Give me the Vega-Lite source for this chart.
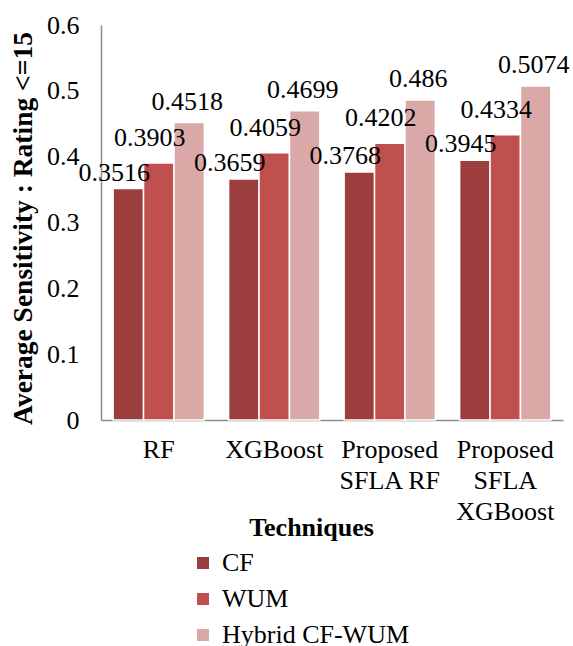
{
  "$schema": "https://vega.github.io/schema/vega-lite/v6.json",
  "width": 462,
  "height": 395,
  "autosize": {"type": "none"},
  "padding": {"left": 101, "top": 25, "right": 10, "bottom": 226},
  "background": "white",
  "config": {
    "font": "Liberation Serif",
    "view": {"stroke": null},
    "axis": {"labelFont": "Liberation Serif", "titleFont": "Liberation Serif", "labelColor": "black", "titleColor": "black"}
  },
  "data": {
    "values": [
      {"technique": "RF", "series": "CF", "value": 0.3516},
      {"technique": "RF", "series": "WUM", "value": 0.3903},
      {"technique": "RF", "series": "Hybrid CF-WUM", "value": 0.4518},
      {"technique": "XGBoost", "series": "CF", "value": 0.3659},
      {"technique": "XGBoost", "series": "WUM", "value": 0.4059},
      {"technique": "XGBoost", "series": "Hybrid CF-WUM", "value": 0.4699},
      {"technique": "Proposed SFLA RF", "series": "CF", "value": 0.3768},
      {"technique": "Proposed SFLA RF", "series": "WUM", "value": 0.4202},
      {"technique": "Proposed SFLA RF", "series": "Hybrid CF-WUM", "value": 0.486},
      {"technique": "Proposed SFLA XGBoost", "series": "CF", "value": 0.3945},
      {"technique": "Proposed SFLA XGBoost", "series": "WUM", "value": 0.4334},
      {"technique": "Proposed SFLA XGBoost", "series": "Hybrid CF-WUM", "value": 0.5074}
    ]
  },
  "encoding": {
    "x": {
      "field": "technique",
      "type": "nominal",
      "sort": null,
      "scale": {"paddingInner": 0.21, "paddingOuter": 0.105},
      "axis": {
        "title": "Techniques",
        "titleFontSize": 26,
        "titleFontWeight": "bold",
        "titleX": 210,
        "titleY": 107,
        "titleBaseline": "middle",
        "titleAlign": "center",
        "labelAngle": 0,
        "labelFontSize": 26,
        "labelLineHeight": 31,
        "labelPadding": 16,
        "labelLimit": 0,
        "labelExpr": "datum.value == 'Proposed SFLA RF' ? ['Proposed', 'SFLA RF'] : datum.value == 'Proposed SFLA XGBoost' ? ['Proposed', 'SFLA', 'XGBoost'] : datum.label",
        "ticks": false,
        "domainColor": "#8c8c8c",
        "domainWidth": 1.5
      }
    },
    "xOffset": {
      "field": "series",
      "type": "nominal",
      "sort": ["CF", "WUM", "Hybrid CF-WUM"],
      "scale": {"paddingInner": 0, "paddingOuter": 0}
    },
    "y": {
      "field": "value",
      "type": "quantitative",
      "scale": {"domain": [0, 0.6]},
      "axis": {
        "title": "Average Sensitivity : Rating  <=15",
        "titleFontSize": 27.5,
        "titleFontWeight": "bold",
        "titleX": -78,
        "titleY": 203,
        "titleAngle": -90,
        "titleBaseline": "middle",
        "titleAlign": "center",
        "titleLimit": 0,
        "values": [0, 0.1, 0.2, 0.3, 0.4, 0.5, 0.6],
        "format": "~g",
        "labelFontSize": 26,
        "labelPadding": 22,
        "ticks": false,
        "grid": false,
        "domainColor": "#8c8c8c",
        "domainWidth": 1.5
      }
    }
  },
  "layer": [
    {
      "mark": {"type": "bar", "stroke": "white", "strokeWidth": 1.5},
      "encoding": {
        "color": {
          "field": "series",
          "type": "nominal",
          "sort": ["CF", "WUM", "Hybrid CF-WUM"],
          "scale": {"domain": ["CF", "WUM", "Hybrid CF-WUM"], "range": ["#9B3E3D", "#C0504D", "#DBA8A8"]},
          "legend": {
            "title": null,
            "orient": "none",
            "legendX": 89,
            "legendY": 525,
            "padding": 0,
            "symbolType": "square",
            "symbolSize": 144,
            "symbolStrokeWidth": 0,
            "labelFontSize": 26,
            "labelFont": "Liberation Serif",
            "labelColor": "black",
            "labelOffset": 6,
            "labelLimit": 0,
            "rowPadding": 10
          }
        }
      }
    },
    {
      "transform": [{"filter": "datum.series == 'CF'"}],
      "mark": {"type": "text", "fontSize": 26, "baseline": "middle", "dy": -16, "dx": -14, "color": "black"},
      "encoding": {"text": {"field": "value", "type": "quantitative", "format": "~g"}}
    },
    {
      "transform": [{"filter": "datum.series == 'WUM'"}],
      "mark": {"type": "text", "fontSize": 26, "baseline": "middle", "dy": -25, "dx": -9, "color": "black"},
      "encoding": {"text": {"field": "value", "type": "quantitative", "format": "~g"}}
    },
    {
      "transform": [{"filter": "datum.series == 'Hybrid CF-WUM'"}],
      "mark": {"type": "text", "fontSize": 26, "baseline": "middle", "dy": -21, "dx": -2, "color": "black"},
      "encoding": {"text": {"field": "value", "type": "quantitative", "format": "~g"}}
    }
  ]
}
